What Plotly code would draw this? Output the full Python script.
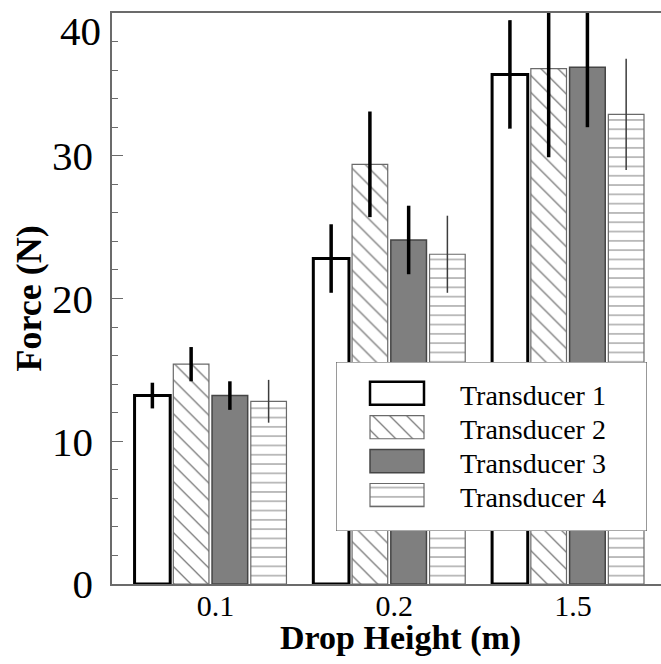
import plotly.graph_objects as go

# ---- data -------------------------------------------------------------
heights = ["0.1", "0.2", "1.5"]
series = ["Transducer 1", "Transducer 2", "Transducer 3", "Transducer 4"]

force_t1 = [13.2, 22.8, 35.7]
err_t1 = [0.9, 2.4, 3.8]
force_t2 = [15.4, 29.4, 36.1]
err_t2 = [1.2, 3.7, 6.2]
force_t3 = [13.2, 24.1, 36.2]
err_t3 = [1.0, 2.4, 4.2]
force_t4 = [12.8, 23.1, 32.9]
err_t4 = [1.5, 2.7, 3.9]

y_major = [0, 10, 20, 30]
y_top = 40

# ---- styles -----------------------------------------------------------
FONT = "Liberation Serif"
AXIS_GREY = "#6b6b6b"

fills = ["white", "white", "#7f7f7f", "white"]
edge_colors = ["black", "#6a6a6a", "#454545", "#6a6a6a"]
edge_widths = [3.0, 1.2, 1.5, 1.2]
key_edge_widths = [2.5, 1.2, 1.5, 1.2]
hatch_shapes = ["", "\\", "", "-"]
hatch_colors = ["black", "#7c7c7c", "black", "#8c8c8c"]
hatch_sizes = [12, 12, 12, 9.3]
hatch_solid = [0.2, 0.11, 0.2, 0.12]
err_colors = ["black", "black", "black", "#3c3c3c"]
err_widths = [3.5, 3.5, 3.5, 1.5]

values = [force_t1, force_t2, force_t3, force_t4]
errors = [err_t1, err_t2, err_t3, err_t4]


def bar_marker(i, line_width):
    return dict(
        color=fills[i],
        line=dict(color=edge_colors[i], width=line_width),
        pattern=dict(shape=hatch_shapes[i], fgcolor=hatch_colors[i],
                     bgcolor=fills[i], size=hatch_sizes[i],
                     solidity=hatch_solid[i], fillmode="replace"),
    )


fig = go.Figure()

for i, name in enumerate(series):
    fig.add_trace(go.Bar(
        x=heights, y=values[i], name=name, showlegend=False,
        marker=bar_marker(i, edge_widths[i]),
        error_y=dict(type="data", array=errors[i], visible=True,
                     color=err_colors[i], thickness=err_widths[i], width=0),
        xaxis="x", yaxis="y",
    ))

# ---- legend key drawn on its own small axes ---------------------------
key_rows = [4, 3, 2, 1]
key_x_range = [-0.63, 5.13]
key_y_range = [-0.062, 4.923]
key_height = 0.68

for i, name in enumerate(series):
    fig.add_trace(go.Bar(
        x=[1], y=[key_rows[i]], orientation="h",
        width=key_height, offset=-key_height / 2,
        showlegend=False, hoverinfo="skip",
        marker=bar_marker(i, key_edge_widths[i]),
        xaxis="x2", yaxis="y2",
    ))
    fig.add_annotation(x=1.63, y=key_rows[i], xref="x2", yref="y2",
                       text=name, showarrow=False,
                       xanchor="left", yanchor="middle", yshift=-2,
                       font=dict(family=FONT, size=28, color="black"))

fig.add_shape(type="rect", xref="x2", yref="y2",
              x0=key_x_range[0], x1=key_x_range[1],
              y0=key_y_range[0], y1=key_y_range[1],
              fillcolor="white", line=dict(color="#555555", width=1.2),
              layer="below")

# ---- axis titles and top tick label -----------------------------------
fig.add_annotation(x=-0.153, y=0.5, xref="paper", yref="paper",
                   text="<b>Force (N)</b>", textangle=-90, showarrow=False,
                   xanchor="center", yanchor="middle",
                   font=dict(family=FONT, size=36, color="black"))
fig.add_annotation(x=0.5255, y=0, xref="paper", yref="paper",
                   text="<b>Drop Height (m)</b>", showarrow=False,
                   xanchor="center", yanchor="top", yshift=-33,
                   font=dict(family=FONT, size=34, color="black"))
fig.add_annotation(x=0, y=y_top, xref="paper", yref="y", text=str(y_top),
                   showarrow=False, xanchor="right", yanchor="middle",
                   xshift=-9, yshift=-18,
                   font=dict(family=FONT, size=41, color="black"))

fig.update_layout(
    width=661, height=664,
    margin=dict(l=112, r=0, t=13, b=80),
    paper_bgcolor="white", plot_bgcolor="white",
    barmode="group", bargap=0.133, bargroupgap=0.08,
    font=dict(family=FONT, color="black"),
    xaxis=dict(
        type="category", range=[-0.551, 2.520],
        showline=True, linecolor=AXIS_GREY, linewidth=1.5, mirror=True,
        ticks="", showgrid=False, zeroline=False,
        tickfont=dict(family=FONT, size=30, color="black"),
        ticklabelshift=5, ticklabelstandoff=-6,
    ),
    yaxis=dict(
        range=[0, y_top], tickvals=y_major,
        showline=True, linecolor=AXIS_GREY, linewidth=1.5, mirror=False,
        ticks="inside", ticklen=11, tickwidth=1.2, tickcolor=AXIS_GREY,
        minor=dict(dtick=2, ticks="inside", ticklen=6, tickwidth=1.2,
                   tickcolor=AXIS_GREY, showgrid=False),
        showgrid=False, zeroline=False,
        tickfont=dict(family=FONT, size=41, color="black"),
        ticklabelstandoff=9,
    ),
    yaxis3=dict(
        range=[0, y_top], overlaying="y", side="right", anchor="x",
        tickvals=y_major[1:], ticks="inside", ticklen=5, tickwidth=1.2,
        tickcolor=AXIS_GREY, showticklabels=False, showline=False,
        showgrid=False, zeroline=False,
    ),
    xaxis2=dict(domain=[0.408, 0.9745], anchor="y2", range=key_x_range,
                visible=False, fixedrange=True),
    yaxis2=dict(domain=[0.0928, 0.3888], anchor="x2", range=key_y_range,
                visible=False, fixedrange=True),
)

fig.write_html("out.html")
